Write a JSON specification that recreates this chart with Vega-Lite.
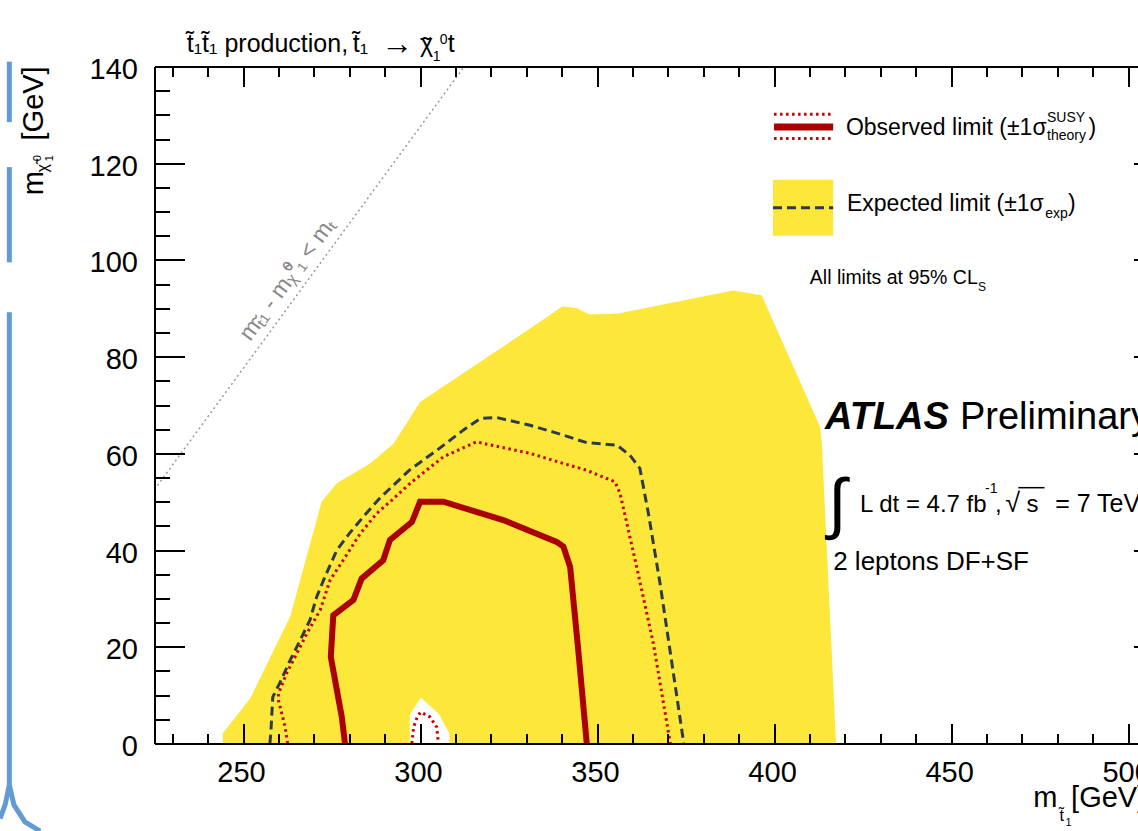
{
 "$schema": "https://vega.github.io/schema/vega-lite/v6.json",
 "width": 1009,
 "height": 677,
 "autosize": "none",
 "padding": {"left": 154.5, "top": 66.5, "right": 0, "bottom": 90},
 "background": "white",
 "config": {"view": {"stroke": null}, "text": {"font": "Liberation Sans", "color": "#000000"}},
 "data": {"values": [{}]},
 "datasets": {
  "band": [{"mstop":244.3,"mlsp":0},{"mstop":244.3,"mlsp":2.1},{"mstop":252.0,"mlsp":9.3},{"mstop":263.3,"mlsp":26.2},{"mstop":270.8,"mlsp":46.2},{"mstop":272.2,"mlsp":50.0},{"mstop":276.5,"mlsp":53.8},{"mstop":285.9,"mlsp":57.9},{"mstop":292.5,"mlsp":62.0},{"mstop":300.0,"mlsp":70.6},{"mstop":331.1,"mlsp":85.8},{"mstop":340.3,"mlsp":90.4},{"mstop":344.3,"mlsp":90.0},{"mstop":348.0,"mlsp":88.7},{"mstop":356.0,"mlsp":88.9},{"mstop":388.5,"mlsp":93.7},{"mstop":396.5,"mlsp":92.7},{"mstop":413.0,"mlsp":65.5},{"mstop":413.5,"mlsp":62.0},{"mstop":417.5,"mlsp":0}],
  "hole": [{"mstop":297.1,"mlsp":0},{"mstop":297.1,"mlsp":5.9},{"mstop":300.2,"mlsp":9.5},{"mstop":305.2,"mlsp":6.2},{"mstop":308.3,"mlsp":2.1},{"mstop":308.3,"mlsp":0}],
  "kin": [{"mstop":225,"mlsp":52.5},{"mstop":312.5,"mlsp":140}],
  "expected": [{"mstop":257.6,"mlsp":0},{"mstop":257.9,"mlsp":2.75},{"mstop":258.4,"mlsp":9.6},{"mstop":260.5,"mlsp":12.7},{"mstop":263.3,"mlsp":17.2},{"mstop":266.1,"mlsp":21.3},{"mstop":268.9,"mlsp":25.5},{"mstop":270.8,"mlsp":30.3},{"mstop":273.1,"mlsp":34.4},{"mstop":276.5,"mlsp":40.0},{"mstop":280.0,"mlsp":43.4},{"mstop":284.0,"mlsp":46.9},{"mstop":288.6,"mlsp":50.7},{"mstop":297.1,"mlsp":56.6},{"mstop":304.7,"mlsp":60.6},{"mstop":312.2,"mlsp":64.8},{"mstop":317.0,"mlsp":67.2},{"mstop":321.7,"mlsp":67.4},{"mstop":331.1,"mlsp":65.8},{"mstop":337.7,"mlsp":64.4},{"mstop":347.1,"mlsp":62.2},{"mstop":355.6,"mlsp":61.7},{"mstop":359.3,"mlsp":59.6},{"mstop":362.1,"mlsp":56.9},{"mstop":364.5,"mlsp":47.6},{"mstop":367.8,"mlsp":33.1},{"mstop":370.6,"mlsp":19.3},{"mstop":374.5,"mlsp":0}],
  "obsband": [{"curve":"up","mstop":262.6,"mlsp":0},{"curve":"up","mstop":261.9,"mlsp":3.4},{"curve":"up","mstop":260.0,"mlsp":9.0},{"curve":"up","mstop":260.0,"mlsp":10.3},{"curve":"up","mstop":262.3,"mlsp":14.5},{"curve":"up","mstop":265.2,"mlsp":18.6},{"curve":"up","mstop":268.0,"mlsp":22.7},{"curve":"up","mstop":271.8,"mlsp":27.6},{"curve":"up","mstop":274.6,"mlsp":33.8},{"curve":"up","mstop":278.3,"mlsp":37.9},{"curve":"up","mstop":283.1,"mlsp":43.4},{"curve":"up","mstop":287.8,"mlsp":47.6},{"curve":"up","mstop":292.0,"mlsp":50.3},{"curve":"up","mstop":297.2,"mlsp":53.8},{"curve":"up","mstop":306.6,"mlsp":59.3},{"curve":"up","mstop":316.0,"mlsp":62.4},{"curve":"up","mstop":318.8,"mlsp":61.9},{"curve":"up","mstop":331.1,"mlsp":60.0},{"curve":"up","mstop":339.6,"mlsp":58.1},{"curve":"up","mstop":347.1,"mlsp":56.5},{"curve":"up","mstop":355.1,"mlsp":54.1},{"curve":"up","mstop":356.5,"mlsp":51.7},{"curve":"up","mstop":357.9,"mlsp":47.2},{"curve":"up","mstop":361.2,"mlsp":36.5},{"curve":"up","mstop":365.9,"mlsp":20.7},{"curve":"up","mstop":370.7,"mlsp":0},{"curve":"down","mstop":297.7,"mlsp":0},{"curve":"down","mstop":298.2,"mlsp":3.4},{"curve":"down","mstop":299.2,"mlsp":5.5},{"curve":"down","mstop":300.2,"mlsp":6.5},{"curve":"down","mstop":302.8,"mlsp":5.5},{"curve":"down","mstop":304.7,"mlsp":3.4},{"curve":"down","mstop":305.2,"mlsp":0}],
  "observed": [{"mstop":278.8,"mlsp":0},{"mstop":277.9,"mlsp":5.5},{"mstop":276.0,"mlsp":13.1},{"mstop":274.8,"mlsp":17.9},{"mstop":275.5,"mlsp":26.5},{"mstop":281.2,"mlsp":29.7},{"mstop":283.5,"mlsp":34.1},{"mstop":289.6,"mlsp":37.9},{"mstop":291.5,"mlsp":42.1},{"mstop":297.7,"mlsp":45.8},{"mstop":299.8,"mlsp":49.6},{"mstop":300.0,"mlsp":50.0},{"mstop":306.6,"mlsp":50.0},{"mstop":323.5,"mlsp":46.2},{"mstop":338.6,"mlsp":41.7},{"mstop":340.5,"mlsp":40.7},{"mstop":342.4,"mlsp":36.5},{"mstop":344.7,"mlsp":19.3},{"mstop":347.1,"mlsp":0}],
  "deco": [{"seg":"a","mstop":184.0,"mlsp":141.0},{"seg":"a","mstop":184.0,"mlsp":128.5},{"seg":"b","mstop":184.0,"mlsp":119.2},{"seg":"b","mstop":184.0,"mlsp":99.5},{"seg":"c","mstop":184.0,"mlsp":89.2},{"seg":"c","mstop":184.0,"mlsp":-8.6},{"seg":"d","mstop":184.0,"mlsp":-8.6},{"seg":"d","mstop":185.3,"mlsp":-12.7},{"seg":"d","mstop":188.4,"mlsp":-16.2},{"seg":"d","mstop":192.7,"mlsp":-18.1},{"seg":"e","mstop":184.0,"mlsp":-8.6},{"seg":"e","mstop":182.8,"mlsp":-12.7},{"seg":"e","mstop":181.4,"mlsp":-15.5}]
 },
 "resolve": {"axis": {"x": "independent", "y": "independent"}},
 "layer": [
  {"data": {"name": "band"},
   "mark": {"type": "area", "color": "#fde73b", "interpolate": "linear"},
   "encoding": {
    "x": {"field": "mstop", "type": "quantitative", "scale": {"domain": [225, 510], "nice": false, "zero": false},
     "axis": {"orient": "bottom", "values": [250,300,350,400,450,500], "tickSize": -20, "tickWidth": 2, "tickColor": "#000", "domain": true, "domainColor": "#000", "domainWidth": 2, "labels": true, "labelFont": "Liberation Sans", "labelFontSize": 29, "labelColor": "#000", "labelPadding": 35, "labelOffset": -2, "labelFlush": false, "labelOverlap": false, "grid": false, "title": null, "zindex": 1}},
    "y": {"field": "mlsp", "type": "quantitative", "stack": null, "scale": {"domain": [0, 140], "nice": false},
     "axis": {"orient": "left", "values": [0,20,40,60,80,100,120,140], "tickSize": -30, "tickWidth": 2, "tickColor": "#000", "domain": true, "domainColor": "#000", "domainWidth": 2, "labels": true, "labelFont": "Liberation Sans", "labelFontSize": 29, "labelColor": "#000", "labelPadding": 47, "labelOffset": 3, "labelFlush": false, "labelOverlap": false, "grid": false, "title": null, "zindex": 1}},
    "order": {"value": null}}},
  {"data": {"name": "hole"},
   "mark": {"type": "area", "color": "#ffffff", "interpolate": "linear"},
   "encoding": {
    "x": {"field": "mstop", "type": "quantitative",
     "axis": {"orient": "bottom", "values": [230,240,260,270,280,290,310,320,330,340,360,370,380,390,410,420,430,440,460,470,480,490], "tickSize": -10, "tickWidth": 2, "tickColor": "#000", "domain": false, "labels": false, "grid": false, "title": null, "zindex": 1}},
    "y": {"field": "mlsp", "type": "quantitative", "stack": null,
     "axis": {"orient": "left", "values": [5,10,15,25,30,35,45,50,55,65,70,75,85,90,95,105,110,115,125,130,135], "tickSize": -15, "tickWidth": 2, "tickColor": "#000", "domain": false, "labels": false, "grid": false, "title": null, "zindex": 1}},
    "order": {"value": null}}},
  {"data": {"name": "kin"},
   "mark": {"type": "line", "color": "#999999", "strokeWidth": 1.5, "strokeDash": [2, 3]},
   "encoding": {
    "x": {"field": "mstop", "type": "quantitative", "axis": null},
    "y": {"field": "mlsp", "type": "quantitative", "axis": null}}},
  {"data": {"name": "expected"},
   "mark": {"type": "line", "color": "#2e3b46", "strokeWidth": 3, "strokeDash": [9, 5]},
   "encoding": {
    "x": {"field": "mstop", "type": "quantitative",
     "axis": {"orient": "top", "values": [250,300,350,400,450,500], "tickSize": -20, "tickWidth": 2, "tickColor": "#000", "domain": true, "domainColor": "#000", "domainWidth": 2, "labels": false, "grid": false, "title": null, "zindex": 1}},
    "y": {"field": "mlsp", "type": "quantitative",
     "axis": {"orient": "right", "values": [0,20,40,60,80,100,120,140], "tickSize": -30, "tickWidth": 2, "tickColor": "#000", "domain": true, "domainColor": "#000", "domainWidth": 2, "labels": false, "grid": false, "title": null, "zindex": 1}},
    "order": {"value": null}}},
  {"data": {"name": "obsband"},
   "mark": {"type": "line", "color": "#c40000", "strokeWidth": 3, "strokeDash": [2.5, 3.5]},
   "encoding": {
    "x": {"field": "mstop", "type": "quantitative",
     "axis": {"orient": "top", "values": [230,240,260,270,280,290,310,320,330,340,360,370,380,390,410,420,430,440,460,470,480,490], "tickSize": -10, "tickWidth": 2, "tickColor": "#000", "domain": false, "labels": false, "grid": false, "title": null, "zindex": 1}},
    "y": {"field": "mlsp", "type": "quantitative",
     "axis": {"orient": "right", "values": [5,10,15,25,30,35,45,50,55,65,70,75,85,90,95,105,110,115,125,130,135], "tickSize": -15, "tickWidth": 2, "tickColor": "#000", "domain": false, "labels": false, "grid": false, "title": null, "zindex": 1}},
    "detail": {"field": "curve", "type": "nominal"},
    "order": {"value": null}}},
  {"data": {"name": "observed"},
   "mark": {"type": "line", "color": "#aa0000", "strokeWidth": 6},
   "encoding": {
    "x": {"field": "mstop", "type": "quantitative", "axis": null},
    "y": {"field": "mlsp", "type": "quantitative", "axis": null},
    "order": {"value": null}}},
  {"data": {"name": "deco"},
   "mark": {"type": "line", "color": "#629bd4", "strokeWidth": 5},
   "encoding": {
    "x": {"field": "mstop", "type": "quantitative", "axis": null},
    "y": {"field": "mlsp", "type": "quantitative", "axis": null},
    "detail": {"field": "seg", "type": "nominal"},
    "order": {"value": null}}},
  {"mark": {"type": "rect", "color": "#fde73b"},
   "encoding": {"x": {"datum": 399.7, "type": "quantitative", "axis": null}, "x2": {"datum": 416.7}, "y": {"datum": 105.0, "type": "quantitative", "axis": null}, "y2": {"datum": 116.6}}},
  {"mark": {"type": "rule", "color": "#2e3b46", "strokeWidth": 3, "strokeDash": [9, 5]},
   "encoding": {"x": {"datum": 399.7, "type": "quantitative", "axis": null}, "x2": {"datum": 416.7}, "y": {"datum": 110.8, "type": "quantitative", "axis": null}}},
  {"mark": {"type": "rule", "color": "#aa0000", "strokeWidth": 7},
   "encoding": {"x": {"datum": 400.0, "type": "quantitative", "axis": null}, "x2": {"datum": 416.7}, "y": {"datum": 127.5, "type": "quantitative", "axis": null}}},
  {"mark": {"type": "rule", "color": "#c40000", "strokeWidth": 3, "strokeDash": [2.5, 3.5]},
   "encoding": {"x": {"datum": 400.0, "type": "quantitative", "axis": null}, "x2": {"datum": 416.0}, "y": {"datum": 130.1, "type": "quantitative", "axis": null}}},
  {"mark": {"type": "rule", "color": "#c40000", "strokeWidth": 3, "strokeDash": [2.5, 3.5]},
   "encoding": {"x": {"datum": 400.0, "type": "quantitative", "axis": null}, "x2": {"datum": 416.0}, "y": {"datum": 125.1, "type": "quantitative", "axis": null}}},
  {"mark": {"type": "text", "text": "t̃₁t̃₁ production,", "fontSize": 25, "align": "left", "baseline": "alphabetic"},
   "encoding": {"x": {"datum": 234.1, "type": "quantitative", "axis": null}, "y": {"datum": 142.95, "type": "quantitative", "axis": null}}},
  {"mark": {"type": "text", "text": "t̃₁", "fontSize": 25, "align": "left", "baseline": "alphabetic"},
   "encoding": {"x": {"datum": 281.0, "type": "quantitative", "axis": null}, "y": {"datum": 142.95, "type": "quantitative", "axis": null}}},
  {"mark": {"type": "text", "text": "→", "fontSize": 32, "align": "left", "baseline": "alphabetic"},
   "encoding": {"x": {"datum": 289.0, "type": "quantitative", "axis": null}, "y": {"datum": 142.6, "type": "quantitative", "axis": null}}},
  {"mark": {"type": "text", "text": "χ", "fontSize": 25, "align": "left", "baseline": "alphabetic"},
   "encoding": {"x": {"datum": 300.0, "type": "quantitative", "axis": null}, "y": {"datum": 142.95, "type": "quantitative", "axis": null}}},
  {"mark": {"type": "text", "text": "˜", "fontSize": 25, "align": "left", "baseline": "alphabetic"},
   "encoding": {"x": {"datum": 300.7, "type": "quantitative", "axis": null}, "y": {"datum": 142.4, "type": "quantitative", "axis": null}}},
  {"mark": {"type": "text", "text": "0", "fontSize": 14, "align": "left", "baseline": "alphabetic"},
   "encoding": {"x": {"datum": 305.6, "type": "quantitative", "axis": null}, "y": {"datum": 144.6, "type": "quantitative", "axis": null}}},
  {"mark": {"type": "text", "text": "1", "fontSize": 14, "align": "left", "baseline": "alphabetic"},
   "encoding": {"x": {"datum": 303.6, "type": "quantitative", "axis": null}, "y": {"datum": 141.1, "type": "quantitative", "axis": null}}},
  {"mark": {"type": "text", "text": "t", "fontSize": 25, "align": "left", "baseline": "alphabetic"},
   "encoding": {"x": {"datum": 307.8, "type": "quantitative", "axis": null}, "y": {"datum": 142.95, "type": "quantitative", "axis": null}}},
  {"mark": {"type": "text", "text": "Observed limit (±1σ", "fontSize": 23, "align": "left", "baseline": "alphabetic"},
   "encoding": {"x": {"datum": 420.3, "type": "quantitative", "axis": null}, "y": {"datum": 125.9, "type": "quantitative", "axis": null}}},
  {"mark": {"type": "text", "text": "SUSY", "fontSize": 14, "align": "left", "baseline": "alphabetic"},
   "encoding": {"x": {"datum": 477.1, "type": "quantitative", "axis": null}, "y": {"datum": 128.5, "type": "quantitative", "axis": null}}},
  {"mark": {"type": "text", "text": "theory", "fontSize": 14, "align": "left", "baseline": "alphabetic"},
   "encoding": {"x": {"datum": 477.1, "type": "quantitative", "axis": null}, "y": {"datum": 124.8, "type": "quantitative", "axis": null}}},
  {"mark": {"type": "text", "text": ")", "fontSize": 23, "align": "left", "baseline": "alphabetic"},
   "encoding": {"x": {"datum": 488.8, "type": "quantitative", "axis": null}, "y": {"datum": 125.9, "type": "quantitative", "axis": null}}},
  {"mark": {"type": "text", "text": "Expected limit (±1σ", "fontSize": 23, "align": "left", "baseline": "alphabetic"},
   "encoding": {"x": {"datum": 420.6, "type": "quantitative", "axis": null}, "y": {"datum": 110.1, "type": "quantitative", "axis": null}}},
  {"mark": {"type": "text", "text": "exp", "fontSize": 14, "align": "left", "baseline": "alphabetic"},
   "encoding": {"x": {"datum": 476.6, "type": "quantitative", "axis": null}, "y": {"datum": 108.6, "type": "quantitative", "axis": null}}},
  {"mark": {"type": "text", "text": ")", "fontSize": 23, "align": "left", "baseline": "alphabetic"},
   "encoding": {"x": {"datum": 483.0, "type": "quantitative", "axis": null}, "y": {"datum": 110.1, "type": "quantitative", "axis": null}}},
  {"mark": {"type": "text", "text": "All limits at 95% CL", "fontSize": 19.5, "align": "left", "baseline": "alphabetic"},
   "encoding": {"x": {"datum": 410.1, "type": "quantitative", "axis": null}, "y": {"datum": 95.1, "type": "quantitative", "axis": null}}},
  {"mark": {"type": "text", "text": "S", "fontSize": 12, "align": "left", "baseline": "alphabetic"},
   "encoding": {"x": {"datum": 457.6, "type": "quantitative", "axis": null}, "y": {"datum": 93.6, "type": "quantitative", "axis": null}}},
  {"mark": {"type": "text", "text": "ATLAS", "fontSize": 38, "fontStyle": "italic", "fontWeight": "bold", "align": "left", "baseline": "alphabetic"},
   "encoding": {"x": {"datum": 414.4, "type": "quantitative", "axis": null}, "y": {"datum": 65.1, "type": "quantitative", "axis": null}}},
  {"mark": {"type": "text", "text": "Preliminary", "fontSize": 38, "align": "left", "baseline": "alphabetic"},
   "encoding": {"x": {"datum": 452.5, "type": "quantitative", "axis": null}, "y": {"datum": 65.1, "type": "quantitative", "axis": null}}},
  {"mark": {"type": "text", "text": "∫", "fontSize": 67, "align": "left", "baseline": "alphabetic"},
   "encoding": {"x": {"datum": 415.3, "type": "quantitative", "axis": null}, "y": {"datum": 45.0, "type": "quantitative", "axis": null}}},
  {"mark": {"type": "text", "text": "L dt = 4.7 fb", "fontSize": 24, "align": "left", "baseline": "alphabetic"},
   "encoding": {"x": {"datum": 424.3, "type": "quantitative", "axis": null}, "y": {"datum": 47.9, "type": "quantitative", "axis": null}}},
  {"mark": {"type": "text", "text": "-1", "fontSize": 14, "align": "left", "baseline": "alphabetic"},
   "encoding": {"x": {"datum": 459.6, "type": "quantitative", "axis": null}, "y": {"datum": 51.7, "type": "quantitative", "axis": null}}},
  {"mark": {"type": "text", "text": ",", "fontSize": 24, "align": "left", "baseline": "alphabetic"},
   "encoding": {"x": {"datum": 462.4, "type": "quantitative", "axis": null}, "y": {"datum": 47.9, "type": "quantitative", "axis": null}}},
  {"mark": {"type": "text", "text": "√", "fontSize": 27, "align": "left", "baseline": "alphabetic"},
   "encoding": {"x": {"datum": 465.3, "type": "quantitative", "axis": null}, "y": {"datum": 47.9, "type": "quantitative", "axis": null}}},
  {"mark": {"type": "rule", "color": "#000000", "strokeWidth": 1.5},
   "encoding": {"x": {"datum": 469.0, "type": "quantitative", "axis": null}, "x2": {"datum": 476.4}, "y": {"datum": 52.9, "type": "quantitative", "axis": null}}},
  {"mark": {"type": "text", "text": "s", "fontSize": 24, "align": "left", "baseline": "alphabetic"},
   "encoding": {"x": {"datum": 471.3, "type": "quantitative", "axis": null}, "y": {"datum": 47.9, "type": "quantitative", "axis": null}}},
  {"mark": {"type": "text", "text": "= 7 TeV", "fontSize": 25, "align": "left", "baseline": "alphabetic"},
   "encoding": {"x": {"datum": 479.4, "type": "quantitative", "axis": null}, "y": {"datum": 47.9, "type": "quantitative", "axis": null}}},
  {"mark": {"type": "text", "text": "2 leptons DF+SF", "fontSize": 26, "align": "left", "baseline": "alphabetic"},
   "encoding": {"x": {"datum": 416.7, "type": "quantitative", "axis": null}, "y": {"datum": 35.8, "type": "quantitative", "axis": null}}},
  {"mark": {"type": "text", "text": "mₜ̃₁ - mᵪ̃⁰₁ < mₜ", "fontSize": 23, "color": "#888888", "angle": 306.2, "align": "center", "baseline": "middle"},
   "encoding": {"x": {"datum": 262.6, "type": "quantitative", "axis": null}, "y": {"datum": 96.0, "type": "quantitative", "axis": null}}},
  {"mark": {"type": "text", "text": "m", "fontSize": 29, "angle": 270, "align": "left", "baseline": "alphabetic"},
   "encoding": {"x": {"datum": 193.5, "type": "quantitative", "axis": null}, "y": {"datum": 113.4, "type": "quantitative", "axis": null}}},
  {"mark": {"type": "text", "text": "χ̃", "fontSize": 16, "angle": 270, "align": "left", "baseline": "alphabetic"},
   "encoding": {"x": {"datum": 194.9, "type": "quantitative", "axis": null}, "y": {"datum": 118.1, "type": "quantitative", "axis": null}}},
  {"mark": {"type": "text", "text": "0", "fontSize": 11, "angle": 270, "align": "left", "baseline": "alphabetic"},
   "encoding": {"x": {"datum": 192.9, "type": "quantitative", "axis": null}, "y": {"datum": 120.4, "type": "quantitative", "axis": null}}},
  {"mark": {"type": "text", "text": "1", "fontSize": 11, "angle": 270, "align": "left", "baseline": "alphabetic"},
   "encoding": {"x": {"datum": 196.3, "type": "quantitative", "axis": null}, "y": {"datum": 120.4, "type": "quantitative", "axis": null}}},
  {"mark": {"type": "text", "text": "[GeV]", "fontSize": 29, "angle": 270, "align": "left", "baseline": "alphabetic"},
   "encoding": {"x": {"datum": 193.6, "type": "quantitative", "axis": null}, "y": {"datum": 124.7, "type": "quantitative", "axis": null}}},
  {"mark": {"type": "text", "text": "m", "fontSize": 29, "align": "left", "baseline": "alphabetic"},
   "encoding": {"x": {"datum": 473.2, "type": "quantitative", "axis": null}, "y": {"datum": -13.2, "type": "quantitative", "axis": null}}},
  {"mark": {"type": "text", "text": "t̃", "fontSize": 16, "align": "left", "baseline": "alphabetic"},
   "encoding": {"x": {"datum": 480.6, "type": "quantitative", "axis": null}, "y": {"datum": -16.0, "type": "quantitative", "axis": null}}},
  {"mark": {"type": "text", "text": "1", "fontSize": 11, "align": "left", "baseline": "alphabetic"},
   "encoding": {"x": {"datum": 482.3, "type": "quantitative", "axis": null}, "y": {"datum": -17.1, "type": "quantitative", "axis": null}}},
  {"mark": {"type": "text", "text": "[GeV]", "fontSize": 29, "align": "left", "baseline": "alphabetic"},
   "encoding": {"x": {"datum": 483.9, "type": "quantitative", "axis": null}, "y": {"datum": -13.2, "type": "quantitative", "axis": null}}}
 ]
}
